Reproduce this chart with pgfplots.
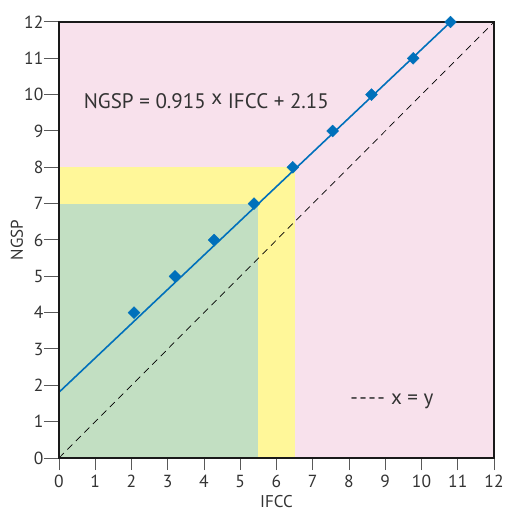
\documentclass[border=0pt]{standalone}
\usepackage{pgfplots}
\pgfplotsset{compat=1.18}
\usepackage{fontspec}
\setmainfont{PT Sans}
\definecolor{pinkbg}{HTML}{F8E1EC}
\definecolor{yel}{HTML}{FFF799}
\definecolor{grn}{HTML}{C2DFC2}
\definecolor{blu}{HTML}{0070BB}
\definecolor{txt}{HTML}{333333}
\begin{document}
\begin{tikzpicture}
\begin{axis}[
    name=ax,
    width=435bp, height=436bp, scale only axis,
    xmin=0, xmax=12, ymin=0, ymax=12,
    xtick={0,...,12}, ytick={0,...,12},
    xtick pos=bottom, ytick pos=left,
    tick align=outside,
    major tick length=15bp,
    xtick style={/pgfplots/major tick length=12bp},
    tick style={color=black!65, line width=1bp},
    axis line style={line width=1.6bp, black!90},
    axis background/.style={fill=pinkbg},
    axis on top,
    /pgf/number format/assume math mode=true,
    tick label style={font=\fontsize{17.5bp}{20bp}\selectfont, text=txt},
    yticklabel style={inner sep=0.5bp},
    xticklabel style={inner sep=2bp},
    xlabel={IFCC}, ylabel={NGSP},
    label style={font=\fontsize{17bp}{20bp}\selectfont, text=txt, inner sep=0pt},
    xlabel style={at={(axis description cs:0.5,-0.085)}, anchor=north},
    ylabel style={at={(axis description cs:-0.097,0.5)}, anchor=center},
]
\addplot[draw=none, fill=yel] coordinates {(0,8)(6.5,8)} \closedcycle;
\addplot[draw=none, fill=grn] coordinates {(0,7)(5.5,7)} \closedcycle;
\addplot[black, line width=0.7bp, dash pattern=on 7bp off 5bp] coordinates {(0,0)(12,12)};
\addplot[blu, line width=1.6bp] coordinates {(0,1.81)(10.8,12)};
\addplot[only marks, mark=square*, mark size=4.2bp, mark options={rotate=45}, blu] coordinates {
    (2.07,4)(3.20,5)(4.28,6)(5.38,7)(6.45,8)(7.55,9)(8.62,10)(9.77,11)(10.80,12)};
\node[anchor=base west, inner sep=0pt, text=txt, font=\fontsize{21bp}{24bp}\selectfont]
    at (axis cs:0.68,9.62) {NGSP = 0.915 \raisebox{0.2em}{x} IFCC + 2.15};
\node[anchor=base west, inner sep=0pt, text=txt, font=\fontsize{21bp}{24bp}\selectfont]
    at (axis cs:8.03,1.47) {-\kern1.5bp-\kern1.5bp-\kern1.5bp-\kern6bp x = y};
\end{axis}
\pgfresetboundingbox
\path[use as bounding box] ([xshift=-59bp,yshift=-53bp]ax.south west) rectangle ([xshift=11bp,yshift=22bp]ax.north east);
\end{tikzpicture}
\end{document}
